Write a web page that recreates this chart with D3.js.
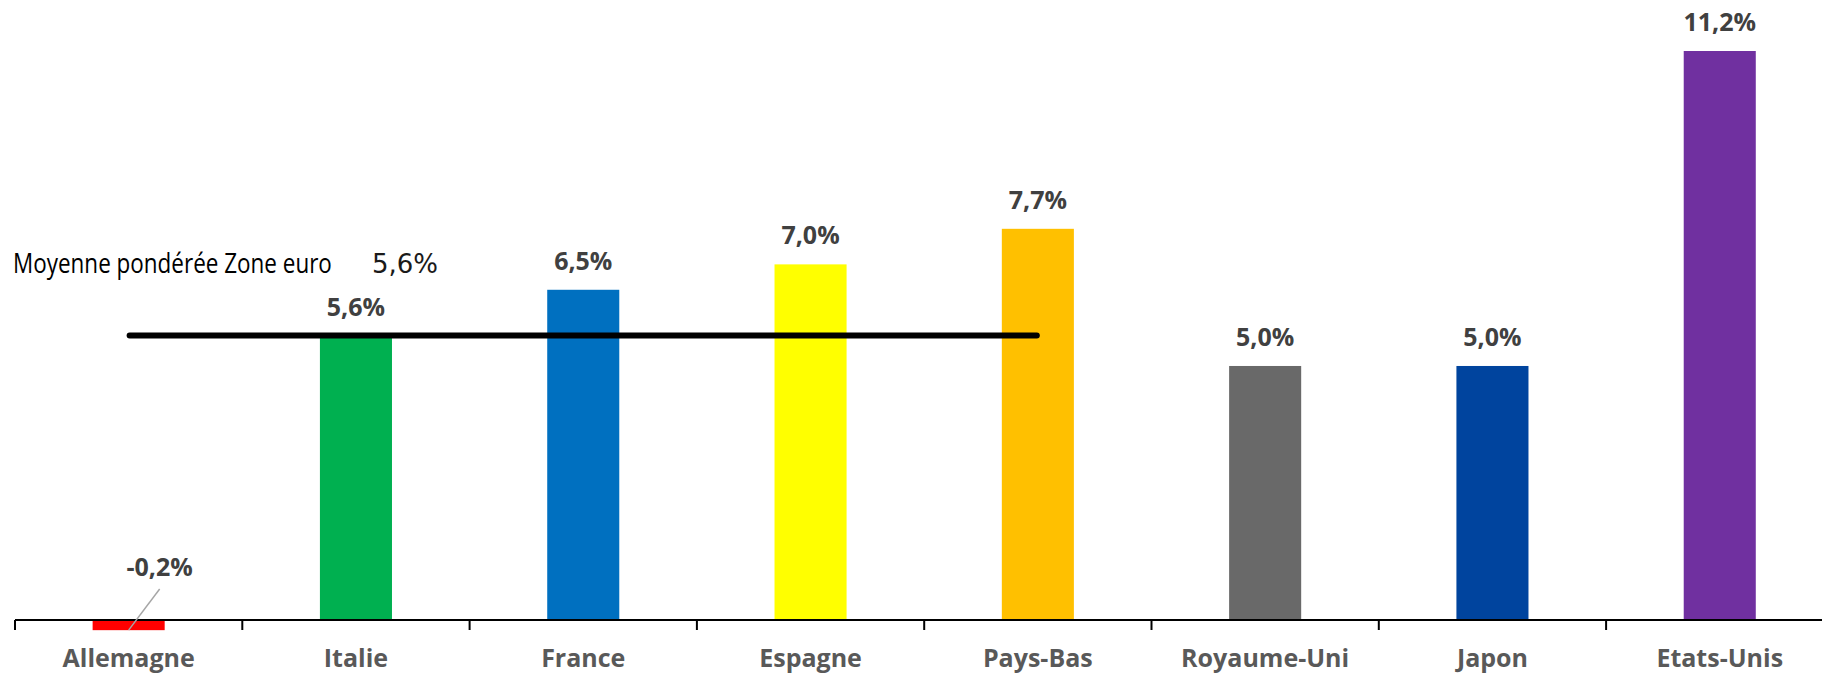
<!DOCTYPE html>
<html>
<head>
<meta charset="utf-8">
<script src="https://cdn.jsdelivr.net/npm/d3@7"></script>
<style>
  body { margin: 0; background: #fff; }
  svg { display: block; }
</style>
</head>
<body>
<div id="chart"></div>
<script>
// data
var countries = ["Allemagne", "Italie", "France", "Espagne", "Pays-Bas", "Royaume-Uni", "Japon", "Etats-Unis"];
var values = [-0.2, 5.6, 6.5, 7.0, 7.7, 5.0, 5.0, 11.2];
var colors = ["#ff0000", "#00b050", "#0070c0", "#ffff00", "#ffc000", "#696969", "#00449e", "#7030a0"];
var avgLabel = "Moyenne pondérée Zone euro";
var avgValue = 5.6;
var avgFrom = "Allemagne", avgTo = "Pays-Bas";

var w = 1822, h = 673;
var fmt = function (v) { return (v < 0 ? "-" : "") + Math.abs(v).toFixed(1).replace(".", ",") + "%"; };

var svg = d3.select("#chart").append("svg")
  .attr("width", w)
  .attr("height", h);

var x = d3.scaleBand()
  .domain(countries)
  .range([15, 15 + 8 * 227.3])
  .paddingInner(0.683)
  .paddingOuter(0.683 / 2);

var y = d3.scaleLinear()
  .domain([0, 11.2])
  .range([620, 51]);

var cx = function (c) { return x(c) + x.bandwidth() / 2; };

// bars
svg.selectAll("rect.bar")
  .data(values)
  .enter().append("rect")
  .attr("class", "bar")
  .attr("x", function (d, i) { return x(countries[i]); })
  .attr("width", x.bandwidth())
  .attr("y", function (d) { return Math.min(y(d), y(0)); })
  .attr("height", function (d) { return Math.abs(y(d) - y(0)); })
  .attr("fill", function (d, i) { return colors[i]; });

// category axis
var axis = svg.append("g")
  .attr("transform", "translate(0," + y(0) + ")");

axis.append("line")
  .attr("x1", x.range()[0]).attr("x2", w)
  .attr("y1", 0).attr("y2", 0)
  .attr("stroke", "#000").attr("stroke-width", 2);

axis.selectAll("line.tick")
  .data(d3.range(countries.length + 1))
  .enter().append("line")
  .attr("class", "tick")
  .attr("x1", function (i) { return x.range()[0] + i * x.step(); })
  .attr("x2", function (i) { return x.range()[0] + i * x.step(); })
  .attr("y1", 0).attr("y2", 10)
  .attr("stroke", "#000").attr("stroke-width", 2);

axis.selectAll("text")
  .data(countries)
  .enter().append("text")
  .attr("x", cx)
  .attr("y", 47)
  .attr("text-anchor", "middle")
  .attr("font-family", "'Open Sans', sans-serif")
  .attr("font-weight", "bold")
  .attr("font-size", 25)
  .attr("fill", "#595959")
  .text(function (d) { return d; });

// value labels
svg.selectAll("text.val")
  .data(values)
  .enter().append("text")
  .attr("class", "val")
  .attr("x", function (d, i) { return d < 0 ? cx(countries[i]) + 31 : cx(countries[i]); })
  .attr("y", function (d) { return d < 0 ? y(0) - 44 : y(d) - 20; })
  .attr("text-anchor", "middle")
  .attr("font-family", "'Open Sans', sans-serif")
  .attr("font-weight", "bold")
  .attr("font-size", 25)
  .attr("fill", "#404040")
  .text(fmt);

// leader line for the negative bar
values.forEach(function (d, i) {
  if (d < 0) {
    svg.append("line")
      .attr("x1", cx(countries[i]) + 31).attr("y1", y(0) - 31)
      .attr("x2", cx(countries[i])).attr("y2", y(d))
      .attr("stroke", "#a6a6a6").attr("stroke-width", 1.5);
  }
});

// weighted euro area average
svg.append("line")
  .attr("x1", x(avgFrom) + 37).attr("x2", x(avgTo) + 35)
  .attr("y1", y(avgValue)).attr("y2", y(avgValue))
  .attr("stroke", "#000")
  .attr("stroke-width", 6)
  .attr("stroke-linecap", "round");

// condensed label: squeeze horizontally to the reference width
var lbl = svg.append("text")
  .attr("x", 0).attr("y", 0)
  .attr("font-family", "'Liberation Sans Narrow', 'Open Sans', sans-serif")
  .attr("font-size", 27)
  .attr("fill", "#000")
  .text(avgLabel);
var natural = lbl.node().getComputedTextLength();
lbl.attr("transform", "translate(13,273) scale(" + (319 / natural) + ",1)");

svg.append("text")
  .attr("x", 372).attr("y", 273)
  .attr("font-family", "'DejaVu Sans', sans-serif")
  .attr("font-size", 26)
  .attr("fill", "#1a1a1a")
  .text(fmt(avgValue));
</script>
</body>
</html>
